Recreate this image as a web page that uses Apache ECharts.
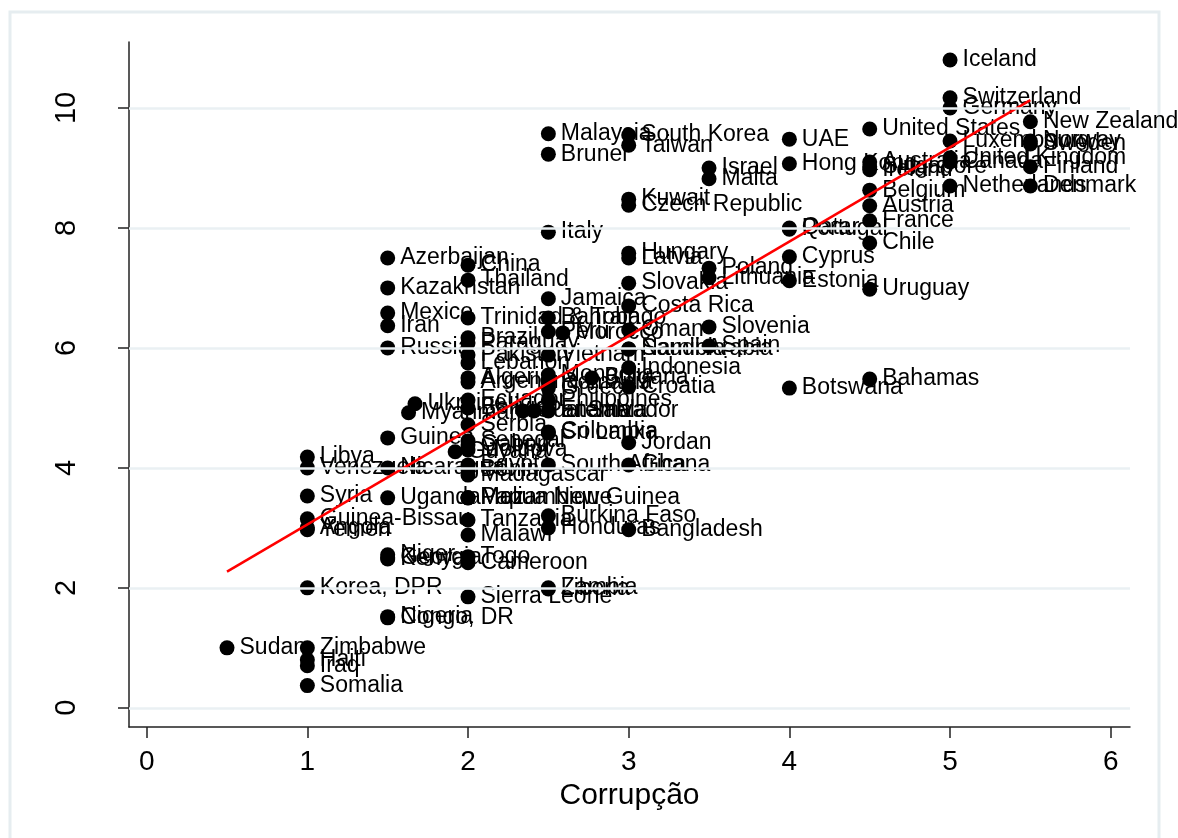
<!DOCTYPE html>
<html>
<head>
<meta charset="utf-8">
<script src="https://cdn.jsdelivr.net/npm/echarts@6/dist/echarts.min.js"></script>
<style>
  html, body { margin: 0; padding: 0; background: #fff; }
  #main { width: 1178px; height: 838px; }
</style>
</head>
<body>
<div id="main"></div>
<script>
// country labels, corruption (x) and the y score
var countries = [
  'Iceland', 'Switzerland', 'Germany', 'New Zealand', 'United States', 'Luxembourg', 'Norway', 'Sweden',
  'UAE', 'United Kingdom', 'Canada', 'Australia', 'Singapore', 'Ireland', 'Hong Kong', 'Finland',
  'Netherlands', 'Denmark', 'Belgium', 'Austria', 'France', 'Chile', 'Uruguay', 'Bahamas',
  'Portugal', 'Qatar', 'Cyprus', 'Estonia', 'Botswana', 'Israel', 'Malta', 'Poland',
  'Lithuania', 'Slovenia', 'Spain', 'South Korea', 'Taiwan', 'Kuwait', 'Czech Republic', 'Hungary',
  'Latvia', 'Slovakia', 'Costa Rica', 'Oman', 'Peru', 'Morocco', 'Saudi Arabia', 'Namibia',
  'Indonesia', 'Croatia', 'Jordan', 'Ghana', 'Bangladesh', 'Malaysia', 'Brunei', 'Italy',
  'Jamaica', 'Bahrain', 'Vietnam', 'Philippines', 'Greece', 'Mongolia', 'Romania', 'Bulgaria',
  'Sri Lanka', 'Colombia', 'South Africa', 'Burkina Faso', 'Honduras', 'Zambia', 'Liberia', 'Guatemala',
  'Panama', 'El Salvador', 'China', 'Thailand', 'Trinidad & Tobago', 'Brazil', 'Paraguay', 'Pakistan',
  'Lebanon', 'Algeria', 'Argentina', 'Ecuador', 'Bolivia', 'Serbia', 'Senegal', 'Gabon',
  'Moldova', 'Guyana', 'Egypt', 'Benin', 'Madagascar', 'Papua New Guinea', 'Mozambique', 'Mali',
  'Tanzania', 'Malawi', 'Togo', 'Cameroon', 'Sierra Leone', 'Azerbaijan', 'Kazakhstan', 'Mexico',
  'Iran', 'Russia', 'Guinea', 'Nicaragua', 'Uganda', 'Niger', 'Georgia', 'Kenya',
  'Nigeria', 'Congo, DR', 'Ukraine', 'Myanmar', 'Libya', 'Venezuela', 'Syria', 'Guinea-Bissau',
  'Angola', 'Yemen', 'Korea, DPR', 'Zimbabwe', 'Haiti', 'Iraq', 'Somalia', 'Sudan'
];
var corruption = [
  5.0, 5.0, 5.0, 5.5, 4.5, 5.0, 5.5, 5.5,
  4.0, 5.0, 5.0, 4.5, 4.5, 4.5, 4.0, 5.5,
  5.0, 5.5, 4.5, 4.5, 4.5, 4.5, 4.5, 4.5,
  4.0, 4.0, 4.0, 4.0, 4.0, 3.5, 3.5, 3.5,
  3.5, 3.5, 3.5, 3.0, 3.0, 3.0, 3.0, 3.0,
  3.0, 3.0, 3.0, 3.0, 2.5, 2.59, 3.0, 3.0,
  3.0, 3.0, 3.0, 3.0, 3.0, 2.5, 2.5, 2.5,
  2.5, 2.5, 2.5, 2.5, 2.5, 2.5, 2.5, 2.77,
  2.5, 2.5, 2.5, 2.5, 2.5, 2.5, 2.5, 2.34,
  2.41, 2.5, 2.0, 2.0, 2.0, 2.0, 2.0, 2.0,
  2.0, 2.0, 2.0, 2.0, 2.0, 2.0, 2.0, 2.0,
  2.0, 1.92, 2.0, 2.0, 2.0, 2.0, 2.0, 2.0,
  2.0, 2.0, 2.0, 2.0, 2.0, 1.5, 1.5, 1.5,
  1.5, 1.5, 1.5, 1.5, 1.5, 1.5, 1.5, 1.5,
  1.5, 1.5, 1.67, 1.63, 1.0, 1.0, 1.0, 1.0,
  1.0, 1.0, 1.0, 1.0, 1.0, 1.0, 1.0, 0.5
];
var score = [
  10.8, 10.17, 10.0, 9.77, 9.65, 9.45, 9.45, 9.4,
  9.48, 9.17, 9.1, 9.1, 9.02, 8.97, 9.07, 9.02,
  8.7, 8.7, 8.63, 8.37, 8.12, 7.75, 6.98, 5.48,
  7.98, 8.0, 7.52, 7.12, 5.33, 9.0, 8.82, 7.33,
  7.17, 6.35, 6.03, 9.55, 9.38, 8.48, 8.38, 7.58,
  7.5, 7.08, 6.7, 6.3, 6.27, 6.25, 5.98, 5.98,
  5.67, 5.35, 4.42, 4.05, 2.97, 9.57, 9.23, 7.93,
  6.82, 6.5, 5.88, 5.13, 5.33, 5.55, 5.42, 5.5,
  4.58, 4.6, 4.05, 3.2, 3.0, 2.0, 1.98, 4.95,
  4.95, 4.95, 7.38, 7.13, 6.5, 6.17, 6.08, 5.88,
  5.75, 5.5, 5.43, 5.13, 5.0, 4.72, 4.45, 4.38,
  4.3, 4.27, 4.05, 3.97, 3.88, 3.5, 3.5, 3.5,
  3.13, 2.88, 2.52, 2.42, 1.85, 7.5, 7.0, 6.58,
  6.37, 6.0, 4.5, 4.0, 3.5, 2.55, 2.5, 2.48,
  1.52, 1.5, 5.07, 4.92, 4.18, 4.0, 3.53, 3.15,
  3.0, 2.97, 2.0, 1.0, 0.8, 0.7, 0.37, 1.0
];
// fitted line, read at the ends of the data range
var fitX = [0.5, 5.5];
var fitY = [2.27, 10.13];
var xTicks = [0, 1, 2, 3, 4, 5, 6];
var yTicks = [0, 2, 4, 6, 8, 10];

var font = '"Liberation Sans", Arial, sans-serif';
var myChart = echarts.init(document.getElementById('main'));

var points = countries.map(function (c, i) {
  return { name: c, value: [corruption[i], score[i]] };
});
var fit = fitX.map(function (x, i) { return [x, fitY[i]]; });

var option = {
  animation: false,
  backgroundColor: '#fff',
  graphic: [{
    type: 'rect',
    shape: { x: 10, y: 12, width: 1149, height: 840 },
    style: { fill: 'none', stroke: '#e6edf0', lineWidth: 3 },
    silent: true
  }],
  grid: { left: 129, right: 48, top: 42, bottom: 111 },
  xAxis: {
    type: 'value',
    min: -0.11,
    max: 6.12,
    name: 'Corrupção',
    nameLocation: 'middle',
    nameGap: 49,
    nameTextStyle: { color: '#000', fontSize: 30, fontFamily: font },
    axisLine: { onZero: false, lineStyle: { color: '#222', width: 1.5 } },
    axisTick: { customValues: xTicks, length: 11, lineStyle: { color: '#222', width: 1.5 } },
    axisLabel: { customValues: xTicks, margin: 21, color: '#000', fontSize: 28, fontFamily: font },
    splitLine: { show: false }
  },
  yAxis: {
    type: 'value',
    min: -0.32,
    max: 11.1,
    axisLine: { show: true, onZero: false, lineStyle: { color: '#222', width: 1.5 } },
    axisTick: { show: true, customValues: yTicks, length: 11, lineStyle: { color: '#222', width: 1.5 } },
    axisLabel: { customValues: yTicks, rotate: 90, margin: 48, color: '#000', fontSize: 29, fontFamily: font },
    splitLine: { show: false }
  },
  series: [
    {
      // horizontal grid lines at the y ticks
      type: 'line',
      data: [],
      z: 1,
      silent: true,
      markLine: {
        silent: true,
        symbol: 'none',
        label: { show: false },
        lineStyle: { color: '#eaf0f3', width: 2.5, type: 'solid' },
        data: yTicks.map(function (v) { return { yAxis: v }; })
      }
    },
    {
      type: 'scatter',
      data: points,
      z: 3,
      symbolSize: 15,
      itemStyle: { color: '#000', opacity: 1 },
      label: {
        show: true,
        position: 'right',
        distance: 5,
        formatter: '{b}',
        color: '#000',
        fontSize: 23,
        fontFamily: font
      },
      labelLayout: { hideOverlap: false }
    },
    {
      type: 'line',
      data: fit,
      z: 4,
      showSymbol: false,
      symbol: 'none',
      lineStyle: { color: '#ff0000', width: 2.5 }
    }
  ]
};
myChart.setOption(option);
window.addEventListener('resize', function () {
  myChart.resize();
});
</script>
</body>
</html>
